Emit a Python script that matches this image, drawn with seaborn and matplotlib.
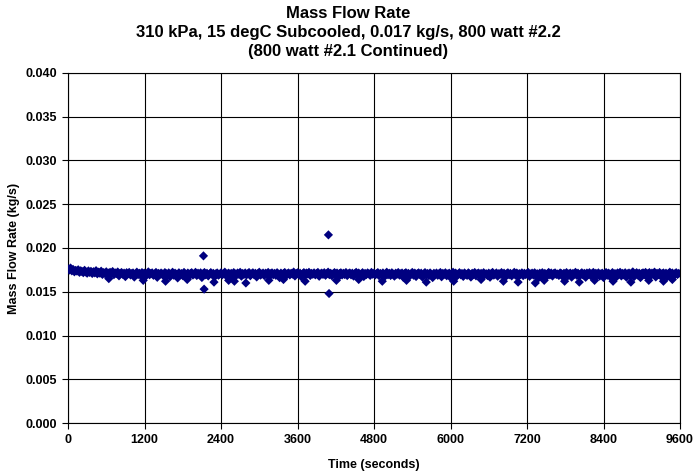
import numpy as np
import pandas as pd
import matplotlib
matplotlib.use("Agg")
import matplotlib.pyplot as plt
import seaborn as sns

# Logged mass flow rate, sampled every 20 s, in units of 1e-5 kg/s
sample_interval_s = 20
flow_1e5 = [
    1762, 1748, 1771, 1739, 1755, 1728, 1744, 1736, 1751, 1722, 1740, 1731, 1718, 1745, 1726, 1712, 1738, 1721, 1733, 1709, 1729, 1716, 1741, 1705,
    1724, 1712, 1735, 1698, 1719, 1707, 1728, 1689, 1714, 1722, 1703, 1731, 1695, 1716, 1709, 1726, 1682, 1711, 1720, 1699, 1713, 1673, 1718, 1706,
    1721, 1692, 1708, 1715, 1668, 1703, 1724, 1697, 1711, 1686, 1719, 1705, 1713, 1679, 1702, 1727, 1694, 1709, 1716, 1688, 1704, 1721, 1665, 1710,
    1698, 1714, 1703, 1681, 1719, 1707, 1692, 1716, 1671, 1705, 1723, 1689, 1712, 1700, 1658, 1717, 1696, 1708, 1684, 1721, 1702, 1693, 1714, 1677,
    1709, 1718, 1691, 1704, 1722, 1686, 1712, 1699, 1716, 1663, 1707, 1720, 1694, 1711, 1681, 1703, 1719, 1697, 1710, 1672, 1706, 1715, 1689, 1701,
    1716, 1693, 1708, 1724, 1684, 1702, 1713, 1667, 1710, 1696, 1719, 1705, 1687, 1714, 1700, 1722, 1678, 1709, 1698, 1715, 1692, 1706, 1720, 1683,
    1704, 1717, 1695, 1711, 1669, 1708, 1723, 1690, 1703, 1714, 1685, 1712, 1699, 1721, 1676, 1707, 1716, 1694, 1710, 1688, 1718, 1701, 1661, 1713,
    1697, 1709, 1720, 1683, 1706, 1715, 1692, 1711, 1702, 1725, 1680, 1708, 1717, 1696, 1712, 1671, 1705, 1719, 1690, 1714, 1703, 1722, 1686, 1710,
    1700, 1716, 1693, 1709, 1721, 1677, 1704, 1713, 1698, 1718, 1688, 1707, 1724, 1695, 1711, 1682, 1706, 1719, 1701, 1714, 1668, 1709, 1717, 1692,
    1711, 1697, 1720, 1685, 1706, 1715, 1693, 1712, 1679, 1708, 1722, 1699, 1714, 1689, 1703, 1718, 1674, 1710, 1696, 1716, 1705, 1687, 1721, 1700,
    1713, 1692, 1707, 1719, 1683, 1709, 1698, 1715, 1670, 1704, 1723, 1694, 1711, 1686, 1717, 1702, 1678, 1712, 1699, 1720, 1690, 1706, 1714, 1665,
    1708, 1718, 1695, 1710, 1681, 1704, 1721, 1689, 1713, 1674, 1707, 1716, 1697, 1712, 1667, 1703, 1719, 1693, 1709, 1684, 1715, 1700, 1662, 1711,
    1696, 1714, 1688, 1706, 1720, 1671, 1710, 1699, 1717, 1683, 1705, 1712, 1664, 1708, 1723, 1691, 1713, 1679, 1702, 1718, 1694, 1709, 1675, 1715,
    1701, 1687, 1716, 1704, 1668, 1711, 1697, 1720, 1682, 1707, 1714, 1693, 1710, 1673, 1718, 1699, 1706, 1685, 1713, 1666, 1709, 1721, 1690, 1703,
    1715, 1678, 1708, 1700, 1719, 1686, 1712, 1669, 1705, 1717, 1694, 1710, 1681, 1703, 1722, 1689, 1714, 1672, 1707, 1698, 1716, 1684, 1711, 1696,
    1709, 1720, 1676, 1704, 1713, 1691, 1717, 1683, 1706, 1658, 1712, 1699, 1718, 1687, 1710, 1670, 1705, 1721, 1693, 1714, 1680, 1708, 1716, 1697,
    1703, 1686, 1715, 1707, 1674, 1711, 1695, 1719, 1681, 1706, 1713, 1667, 1709, 1700, 1722, 1688, 1712, 1676, 1704, 1717, 1692, 1710, 1665, 1714,
    1698, 1718, 1683, 1707, 1721, 1671, 1711, 1694, 1716, 1679, 1705, 1712, 1663, 1709, 1720, 1689, 1713, 1675, 1702, 1719, 1686, 1708, 1668, 1715,
    1700, 1722, 1681, 1710, 1693, 1717, 1666, 1706, 1714, 1685, 1711, 1727, 1673, 1704, 1718, 1690, 1712, 1662, 1708, 1716, 1695, 1721, 1677, 1709,
    1719, 1684, 1713, 1701, 1724, 1669, 1711, 1696, 1720, 1678, 1707, 1715, 1688, 1712, 1672, 1709, 1723, 1691, 1714, 1680, 1706, 1718, 1697, 1710,
]

# Brief low readings below the main band
dip_times = [640, 1180, 1530, 1870, 2290, 2520, 2610, 2790, 3150, 3380,
             3720, 4210, 4560, 4930, 5310, 5620, 6050, 6480, 6830, 7060,
             7330, 7470, 7790, 8020, 8260, 8550, 8830, 9110, 9340, 9480]
dip_flow = [0.0165, 0.0163, 0.0162, 0.0164, 0.0161, 0.0163, 0.0162, 0.0160, 0.0163, 0.0164,
            0.0162, 0.0163, 0.0164, 0.0162, 0.0163, 0.0161, 0.0162, 0.0164, 0.0162, 0.0161,
            0.0160, 0.0163, 0.0162, 0.0161, 0.0163, 0.0162, 0.0161, 0.0163, 0.0162, 0.0164]

# Isolated spikes in the record
spike_times = [2125, 2135, 4085, 4095]
spike_flow = [0.0191, 0.0153, 0.0215, 0.0148]

x_ticks = [0, 1200, 2400, 3600, 4800, 6000, 7200, 8400, 9600]
y_ticks = [0.000, 0.005, 0.010, 0.015, 0.020, 0.025, 0.030, 0.035, 0.040]

times = np.arange(len(flow_1e5)) * sample_interval_s
df = pd.DataFrame({
    "time": np.concatenate([times, dip_times, spike_times]),
    "flow": np.concatenate([np.array(flow_1e5) * 1e-5, dip_flow, spike_flow]),
})

sns.set_style("white")
plt.rcParams["font.family"] = ["Liberation Sans", "DejaVu Sans"]
plt.rcParams["font.weight"] = "bold"
plt.rcParams["text.color"] = "black"
plt.rcParams["xtick.color"] = "black"
plt.rcParams["ytick.color"] = "black"
plt.rcParams["axes.labelcolor"] = "black"

fig = plt.figure(figsize=(6.96, 4.76), dpi=100)
ax = fig.add_axes([68 / 696, 53 / 476, 612 / 696, 350 / 476])

sns.scatterplot(data=df, x="time", y="flow", ax=ax, marker="D", s=22,
                color="#000080", edgecolor="none", linewidth=0, zorder=3)

ax.set_xlim(0, 9600)
ax.set_ylim(0, 0.040)
ax.set_xticks(x_ticks)
ax.set_yticks(y_ticks)
ax.set_xticklabels([str(t) for t in x_ticks], fontsize=9, fontweight="bold")
ax.set_yticklabels([f"{v:.3f}" for v in y_ticks], fontsize=9, fontweight="bold")
ax.grid(True, color="black", linewidth=0.8, zorder=0)
ax.set_axisbelow(True)
for sp in ax.spines.values():
    sp.set_color("black")
    sp.set_linewidth(0.8)
ax.tick_params(axis="both", direction="out", length=4, width=0.8, color="black",
               pad=4, bottom=True, left=True)

ax.set_xlabel("Time (seconds)", fontsize=9, fontweight="bold", labelpad=9)
ax.set_ylabel("Mass Flow Rate (kg/s)", fontsize=9, fontweight="bold", labelpad=4)
fig.text(0.5, 1 - 6 / 476,
         "Mass Flow Rate\n310 kPa, 15 degC Subcooled, 0.017 kg/s, 800 watt #2.2\n(800 watt #2.1 Continued)",
         ha="center", va="top", fontsize=12, fontweight="bold", linespacing=1.33)

fig.savefig("out.png", dpi=100)
